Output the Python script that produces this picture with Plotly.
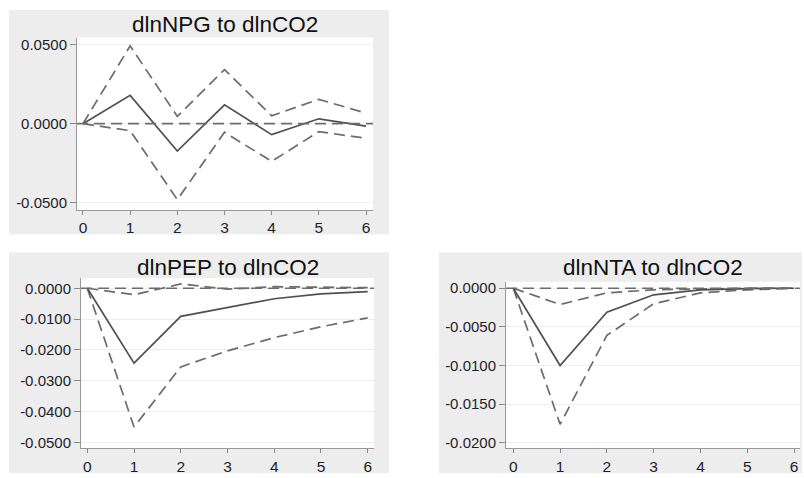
import plotly.graph_objects as go

# ---- data ----
steps = [0, 1, 2, 3, 4, 5, 6]

npg_irf = [0.0, 0.0179, -0.0173, 0.0119, -0.0069, 0.0031, -0.0015]
npg_upper = [0.0, 0.0492, 0.0046, 0.0342, 0.0050, 0.0154, 0.0067]
npg_lower = [0.0, -0.0044, -0.0480, -0.0054, -0.0238, -0.0050, -0.0092]

pep_irf = [0.0, -0.0243, -0.0091, -0.0063, -0.0034, -0.0018, -0.0011]
pep_upper = [0.0, -0.0021, 0.0014, -0.0003, 0.0005, 0.0003, 0.0002]
pep_lower = [0.0, -0.0450, -0.0255, -0.0203, -0.0160, -0.0125, -0.0096]

nta_irf = [0.0, -0.0100, -0.0031, -0.00085, -0.0002, -0.00004, 0.0]
nta_upper = [0.0, -0.0021, -0.0006, -0.0002, -0.0001, 0.0, 0.0]
nta_lower = [0.0, -0.0176, -0.0061, -0.0020, -0.0006, -0.0002, -0.00003]

titles = ["dlnNPG to dlnCO2", "dlnPEP to dlnCO2", "dlnNTA to dlnCO2"]

npg_ticks = [-0.05, 0.0, 0.05]
npg_ticktext = ["-0.0500", "0.0000", "0.0500"]
pep_ticks = [-0.05, -0.04, -0.03, -0.02, -0.01, 0.0]
pep_ticktext = ["-0.0500", "-0.0400", "-0.0300", "-0.0200", "-0.0100", "0.0000"]
nta_ticks = [-0.02, -0.015, -0.01, -0.005, 0.0]
nta_ticktext = ["-0.0200", "-0.0150", "-0.0100", "-0.0050", "0.0000"]

# ---- figure ----
W, H = 804, 478
def px_x(v):
    return v / W
def px_y(v):
    return 1 - v / H

SOLID = "#505050"
DASH = "#6c6c6c"
FONT = "Liberation Sans, Arial, sans-serif"

fig = go.Figure()

panels = [
    dict(irf=npg_irf, up=npg_upper, lo=npg_lower, ax="", ticks=npg_ticks, tt=npg_ticktext,
         box=(77, 36, 373, 210),
         xr=[-0.127, 6.148], yr=[-0.0544, 0.0544],
         bg=(9, 8, 389, 235), title_xy=(225, 23)),
    dict(irf=pep_irf, up=pep_upper, lo=pep_lower, ax="2", ticks=pep_ticks, tt=pep_ticktext,
         box=(81, 279, 374, 451),
         xr=[-0.135, 6.135], yr=[-0.0519, 0.0033],
         bg=(9, 253, 389, 476), title_xy=(228, 268)),
    dict(irf=nta_irf, up=nta_upper, lo=nta_lower, ax="3", ticks=nta_ticks, tt=nta_ticktext,
         box=(506, 282.7, 800, 451),
         xr=[-0.156, 6.128], yr=[-0.0207, 0.00084],
         bg=(439, 253, 802, 476), title_xy=(653, 268)),
]

shapes = []
annotations = []
for i, p in enumerate(panels):
    xa = "x" + p["ax"]
    ya = "y" + p["ax"]
    fig.add_trace(go.Scatter(x=steps, y=p["up"], mode="lines", xaxis=xa, yaxis=ya,
                             line=dict(color=DASH, width=1.7, dash="11px,6px"), showlegend=False))
    fig.add_trace(go.Scatter(x=steps, y=p["lo"], mode="lines", xaxis=xa, yaxis=ya,
                             line=dict(color=DASH, width=1.7, dash="11px,6px"), showlegend=False))
    fig.add_trace(go.Scatter(x=steps, y=p["irf"], mode="lines", xaxis=xa, yaxis=ya,
                             line=dict(color=SOLID, width=1.7), showlegend=False))
    x0, y0, x1, y1 = p["bg"]
    shapes.append(dict(type="rect", xref="paper", yref="paper", layer="below",
                       x0=px_x(x0), x1=px_x(x1), y0=px_y(y1), y1=px_y(y0),
                       fillcolor="#ededed", line=dict(width=0)))
    bx0, by0, bx1, by1 = p["box"]
    shapes.append(dict(type="rect", xref="paper", yref="paper", layer="below",
                       x0=px_x(bx0), x1=px_x(bx1), y0=px_y(by1), y1=px_y(by0),
                       fillcolor="white", line=dict(width=0)))
    shapes.append(dict(type="line", xref=xa + " domain", yref=ya, x0=0, x1=1, y0=0, y1=0,
                       line=dict(color=DASH, width=1.7, dash="11px,6px"), layer="above"))
    tx, ty = p["title_xy"]
    annotations.append(dict(text=titles[i], xref="paper", yref="paper",
                            x=px_x(tx), y=px_y(ty), xanchor="center", yanchor="middle",
                            showarrow=False, font=dict(size=22.5, color="#111111", family=FONT)))
    xkey = "xaxis" + p["ax"]
    ykey = "yaxis" + p["ax"]
    fig.update_layout(**{
        xkey: dict(domain=[px_x(bx0), px_x(bx1)], range=p["xr"], anchor=ya, tickvals=steps,
                   ticks="outside", ticklen=4, tickcolor="#888888", showline=True,
                   linecolor="#999999", linewidth=1, showgrid=False, zeroline=False,
                   tickfont=dict(size=15.5, color="#1e1e2a", family=FONT), fixedrange=True),
        ykey: dict(domain=[px_y(by1), px_y(by0)], range=p["yr"], anchor=xa, tickvals=p["ticks"],
                   ticktext=p["tt"], ticks="outside", ticklen=6, tickcolor="#888888",
                   showline=True, linecolor="#999999", linewidth=1, showgrid=True,
                   gridcolor="#eeeeee", gridwidth=1, zeroline=False,
                   tickfont=dict(size=15, color="#1e1e2a", family=FONT), fixedrange=True),
    })

fig.update_layout(width=W, height=H, margin=dict(l=0, r=0, t=0, b=0),
                  paper_bgcolor="white", plot_bgcolor="white",
                  shapes=shapes, annotations=annotations, showlegend=False)

fig.write_html("out.html", config={"displayModeBar": False},
               post_script="document.body.style.margin='0';document.body.style.overflow='hidden';")
